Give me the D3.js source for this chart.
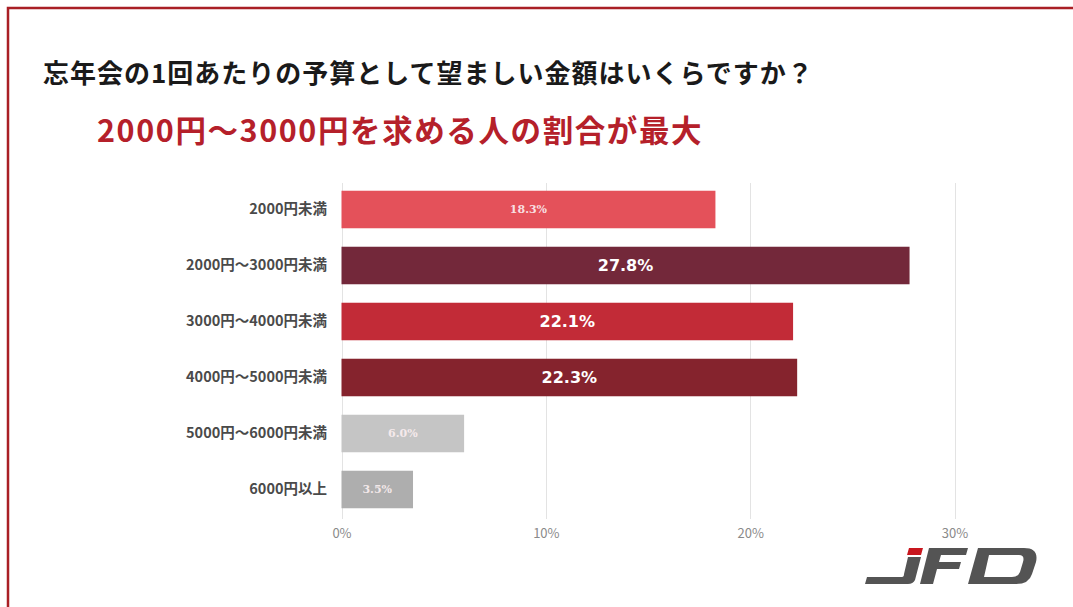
<!DOCTYPE html>
<html>
<head>
<meta charset="utf-8">
<script src="https://cdn.jsdelivr.net/npm/d3@7"></script>
<style>
  html, body { margin: 0; padding: 0; background: #ffffff; }
  svg { display: block; font-family: "Noto Sans CJK JP", "Noto Sans", sans-serif; }
</style>
</head>
<body>
<svg id="chart" width="1073" height="607"></svg>
<script>
// Budget per person for a year-end party (share of respondents, %)
const categories = ["2000円未満", "2000円～3000円未満", "3000円～4000円未満", "4000円～5000円未満", "5000円～6000円未満", "6000円以上"];
const values = [18.3, 27.8, 22.1, 22.3, 6.0, 3.5];
const barColors = ["#E4515A", "#73283A", "#C22B37", "#85232D", "#C5C5C5", "#AEAEAE"];
const emphasis = [false, true, true, true, false, false];
const tickValues = [0, 10, 20, 30];

const titleText = "忘年会の1回あたりの予算として望ましい金額はいくらですか？";
const subtitleText = "2000円～3000円を求める人の割合が最大";

const svg = d3.select("#chart");

// frame
svg.append("rect")
  .attr("x", 8).attr("y", 8)
  .attr("width", 1200).attr("height", 800)
  .attr("fill", "none")
  .attr("stroke", "#A91F25")
  .attr("stroke-width", 2.5);

// headings
svg.append("text")
  .attr("x", 43).attr("y", 83)
  .attr("font-size", 26).attr("font-weight", 700)
  .attr("letter-spacing", 1)
  .attr("fill", "#1a1a1a")
  .text(titleText);

svg.append("text")
  .attr("x", 97).attr("y", 142)
  .attr("font-size", 30.5).attr("font-weight", 700)
  .attr("letter-spacing", 1.6)
  .attr("fill", "#B5202A")
  .text(subtitleText);

// scales
const x = d3.scaleLinear().domain([0, 30]).range([341.5, 954.5]);
const y = d3.scaleBand().domain(categories).range([181.5, 517.5])
  .paddingInner(0.33).paddingOuter(0.165);

// grid lines
svg.append("g")
  .selectAll("line")
  .data(tickValues)
  .join("line")
  .attr("x1", d => Math.round(x(d)) + 0.5)
  .attr("x2", d => Math.round(x(d)) + 0.5)
  .attr("y1", 183).attr("y2", 519)
  .attr("stroke", "#E3E3E3")
  .attr("stroke-width", 1);

// x axis labels
const xAxis = d3.axisBottom(x)
  .tickValues(tickValues)
  .tickFormat(d => d + "%")
  .tickSize(0)
  .tickPadding(0);
const gx = svg.append("g").attr("transform", "translate(0,529)").call(xAxis);
gx.select(".domain").remove();
gx.selectAll("text")
  .style("font-family", "\"Noto Sans CJK JP\", sans-serif")
  .style("font-size", "13px")
  .attr("fill", "#8a8a8a");

// y axis labels
const yAxis = d3.axisLeft(y).tickSize(0).tickPadding(0);
const gy = svg.append("g").attr("transform", "translate(327,0)").call(yAxis);
gy.select(".domain").remove();
gy.selectAll("text")
  .style("font-family", "\"Noto Sans CJK JP\", sans-serif")
  .style("font-size", "14.5px")
  .style("font-weight", 700)
  .attr("fill", "#4a4a4a");

// bars
const rows = categories.map((c, i) => ({ c, v: values[i], color: barColors[i], big: emphasis[i] }));

svg.append("g")
  .selectAll("rect")
  .data(rows)
  .join("rect")
  .attr("x", x(0))
  .attr("y", d => y(d.c))
  .attr("width", d => x(d.v) - x(0))
  .attr("height", y.bandwidth())
  .attr("fill", d => d.color);

// value labels: large sans on the highlighted bars, small serif on the rest
svg.append("g")
  .selectAll("text")
  .data(rows)
  .join("text")
  .attr("x", d => (x(0) + x(d.v)) / 2)
  .attr("y", d => y(d.c) + y.bandwidth() / 2)
  .attr("dy", "0.36em")
  .attr("text-anchor", "middle")
  .style("font-family", d => d.big ? "\"DejaVu Sans\", sans-serif" : "\"DejaVu Serif\", serif")
  .style("font-size", d => d.big ? "16px" : "11px")
  .style("font-weight", 700)
  .attr("fill", d => d.big ? "#ffffff" : "#fbeef0")
  .attr("fill-opacity", d => d.big ? 1 : 0.92)
  .text(d => d.v.toFixed(1) + "%");

// JFD logo
const logo = svg.append("g").attr("fill", "#545454");
logo.append("path")
  .attr("fill", "#C8161E")
  .attr("d", "M909,548 L923,548 L921,555 L907,555 Z");
// J
logo.append("path")
  .attr("d", "M908,557 L921,557 L915,580 Q913,584 908,584 L865,584 L867,577 L902,577 Q904,577 904,574 Z");
// F
logo.append("path")
  .attr("d", "M929,548 L968,548 L966,555 L941,555 L939,562 L961,562 L959,569 L937,569 L933,584 L920,584 Z");
// D
logo.append("path")
  .attr("fill-rule", "evenodd")
  .attr("d", "M978,548 L1024,548 Q1039,548 1036,562 L1032,574 Q1029,584 1016,584 L968,584 Z " +
             "M989,555 L1019,555 Q1025,555 1023,562 L1020,572 Q1018,577 1012,577 L984,577 Z");
</script>
</body>
</html>
